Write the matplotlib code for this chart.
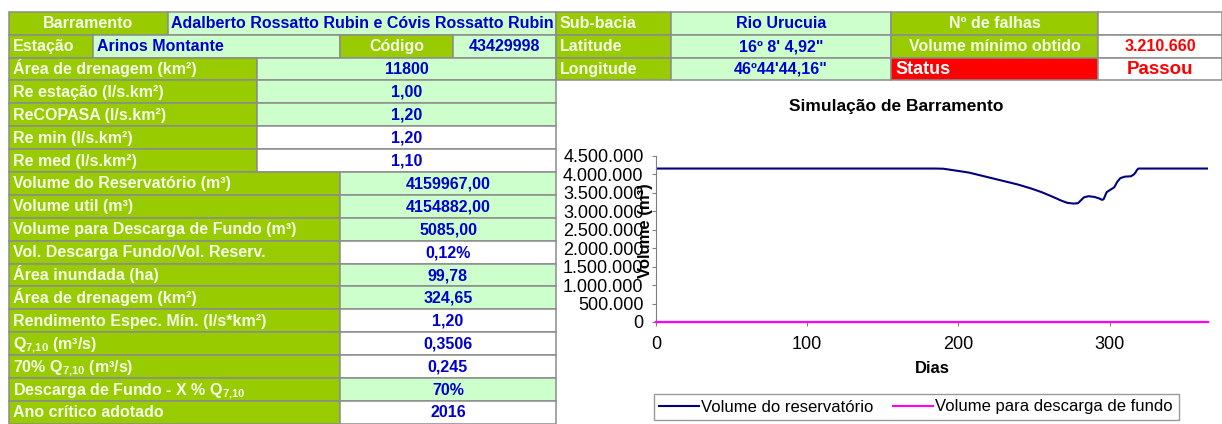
import matplotlib.pyplot as plt
from matplotlib.patches import Rectangle
from matplotlib.lines import Line2D
from matplotlib.ticker import FuncFormatter

plt.rcParams["font.family"] = ["Liberation Sans", "DejaVu Sans"]
plt.rcParams["mathtext.default"] = "regular"

GREEN = "#99cc00"
LIGHT = "#ccffcc"
WHITE = "#ffffff"
BLUE = "#0000cc"
RED = "#ff0000"
LABEL_TXT = "#f4fbea"
EDGE = "#8c8c8c"

# --- table contents ---
barramento = "Adalberto Rossatto Rubin e Cóvis Rossatto Rubin"
estacao = "Arinos Montante"
codigo = "43429998"

labels_short = ["Área de drenagem (km²)", "Re estação (l/s.km²)", "ReCOPASA (l/s.km²)",
                "Re min (l/s.km²)", "Re med (l/s.km²)"]
values_short = ["11800", "1,00", "1,20", "1,20", "1,10"]

labels_long = ["Volume do Reservatório (m³)", "Volume util (m³)",
               "Volume para Descarga de Fundo (m³)", "Vol. Descarga Fundo/Vol. Reserv.",
               "Área inundada (ha)", "Área de drenagem (km²)",
               "Rendimento Espec. Mín. (l/s*km²)", "Q$_{7{,}10}$ (m³/s)",
               "70% Q$_{7{,}10}$ (m³/s)", "Descarga de Fundo - X % Q$_{7{,}10}$",
               "Ano crítico adotado"]
values_long = ["4159967,00", "4154882,00", "5085,00", "0,12%", "99,78", "324,65",
               "1,20", "0,3506", "0,245", "70%", "2016"]

right_labels = ["Sub-bacia", "Latitude", "Longitude"]
right_values = ["Rio Urucuia", "16º 8' 4,92\"", "46º44'44,16\""]
right_labels2 = ["Nº de falhas", "Volume mínimo obtido", "Status"]
right_values2 = ["", "3.210.660", "Passou"]

# --- chart data ---
days = [0, 185, 190, 199, 207, 214, 222, 230, 239, 248, 255, 262, 268, 272, 276,
        279, 281, 283, 286, 290, 293, 295, 296, 298, 301, 303, 305, 307, 310, 314,
        316, 317, 318, 319, 365]
volume = [4159967, 4159967, 4155000, 4100000, 4050000, 3980000, 3900000, 3820000,
          3730000, 3620000, 3520000, 3400000, 3290000, 3230000, 3210660, 3220000,
          3300000, 3380000, 3410000, 3390000, 3350000, 3310000, 3330000, 3520000,
          3600000, 3650000, 3800000, 3900000, 3940000, 3950000, 4000000, 4050000,
          4120000, 4159967, 4159967]
descarga_fundo = 5085

fig = plt.figure(figsize=(12.22, 4.24), dpi=100)
tab = fig.add_axes([0, 0, 1, 1])
tab.set_xlim(0, 1222)
tab.set_ylim(424, 0)
tab.axis("off")

TOP = 11.7
RH = 22.9


def cell(x0, x1, row, fill, text="", color=BLUE, ha="center", size=11.5):
    y0 = TOP + row * RH
    tab.add_patch(Rectangle((x0, y0), x1 - x0, RH, facecolor=fill, edgecolor=EDGE, lw=1.1))
    if text:
        if ha == "left":
            tx = x0 + 4
        else:
            tx = (x0 + x1) / 2
        tab.text(tx, y0 + 16.5, text, ha=ha, va="baseline", color=color,
                 fontsize=size, fontweight="bold")


# left table
cell(9, 168, 0, GREEN, "Barramento", LABEL_TXT)
cell(168, 556, 0, LIGHT, barramento)
cell(9, 93, 1, GREEN, "Estação", LABEL_TXT, "left")
cell(93, 340, 1, LIGHT, estacao, BLUE, "left")
cell(340, 453, 1, GREEN, "Código", LABEL_TXT)
cell(453, 556, 1, LIGHT, codigo)

fills_short = [LIGHT, LIGHT, LIGHT, WHITE, WHITE]
for i, (lab, val) in enumerate(zip(labels_short, values_short)):
    cell(9, 257, 2 + i, GREEN, lab, LABEL_TXT, "left")
    cell(257, 556, 2 + i, fills_short[i], val)

fills_long = [LIGHT, LIGHT, LIGHT, WHITE, LIGHT, LIGHT, WHITE, WHITE, WHITE, LIGHT, WHITE]
for i, (lab, val) in enumerate(zip(labels_long, values_long)):
    cell(9, 340, 7 + i, GREEN, lab, LABEL_TXT, "left")
    cell(340, 556, 7 + i, fills_long[i], val)

# right table
for i in range(3):
    cell(556, 671, i, GREEN, right_labels[i], LABEL_TXT, "left")
    cell(671, 891, i, LIGHT, right_values[i])
    if i < 2:
        cell(891, 1098, i, GREEN, right_labels2[i], LABEL_TXT)
        cell(1098, 1222, i, WHITE, right_values2[i], RED)
    else:
        cell(891, 1098, i, RED, right_labels2[i], WHITE, "left", 13)
        cell(1098, 1222, i, WHITE, right_values2[i], RED, "center", 13.5)

tab.text(896, 107, "Simulação de Barramento", ha="center", va="center",
         fontsize=12.5, fontweight="bold")

# chart
ax = fig.add_axes([656 / 1222, (424 - 322) / 424, 552 / 1222, 166 / 424])
ax.plot(days, volume, color="#000080", lw=1.5, label="Volume do reservatório")
ax.plot([0, 365], [descarga_fundo, descarga_fundo], color="#ff00ff", lw=1.6,
        label="Volume para descarga de fundo", zorder=4, clip_on=False)
ax.set_xlim(0, 365)
ax.set_ylim(0, 4500000)
ax.set_xticks([0, 100, 200, 300])
ax.set_yticks(range(0, 4500001, 500000))
ax.yaxis.set_major_formatter(FuncFormatter(lambda v, p: f"{v:,.0f}".replace(",", ".")))
ax.tick_params(labelsize=13, length=3, width=0.8, color="#808080", pad=6)
ax.tick_params(axis="x", pad=7)
for s in ["top", "right"]:
    ax.spines[s].set_visible(False)
for s in ["left", "bottom"]:
    ax.spines[s].set_color("#808080")
ax.set_xlabel("Dias", fontsize=12, fontweight="bold", labelpad=6)
ax.set_ylabel("Volume (m³)", fontsize=12, fontweight="bold")
ax.yaxis.set_label_coords(-0.005, 0.55)

handles = [Line2D([], [], color="#000080", lw=1.5), Line2D([], [], color="#ff00ff", lw=1.5)]
leg = fig.legend(handles, ["Volume do reservatório", "Volume para descarga de fundo"],
                 loc="center", bbox_to_anchor=(916 / 1222, 1 - 407 / 424), ncol=2,
                 fontsize=12, frameon=True, fancybox=False, edgecolor="#808080",
                 handlelength=2.4, handletextpad=0.1, columnspacing=1.2, borderpad=0.35)
leg.get_frame().set_linewidth(1.0)

fig.savefig("out.png", dpi=100)
